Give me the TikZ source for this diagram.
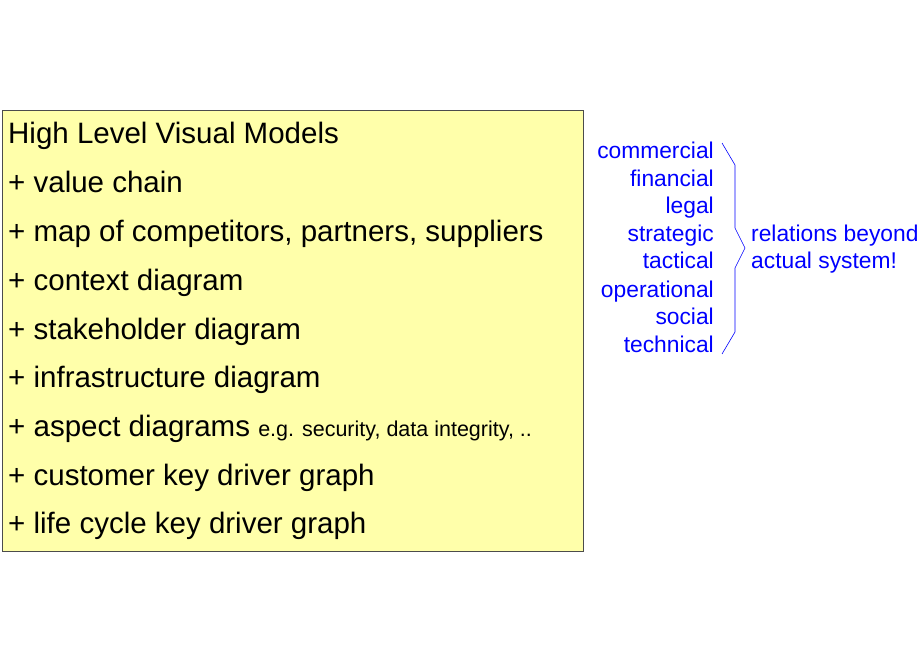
\documentclass[tikz,border=0pt]{standalone}
\usepackage{fontspec}
\setmainfont{Liberation Sans}
\definecolor{boxfill}{RGB}{255,255,170}
\definecolor{myblue}{RGB}{0,0,255}
\tikzset{
  mainline/.style={anchor=base west,inner sep=0pt,font=\fontsize{29.5}{29.5}\selectfont},
  sideline/.style={anchor=base east,inner sep=0pt,text=myblue,font=\fontsize{22.8}{22.8}\selectfont},
  noteline/.style={anchor=base west,inner sep=0pt,text=myblue,font=\fontsize{22.8}{22.8}\selectfont},
}
\begin{document}
\begin{tikzpicture}[x=1pt,y=-1pt]
\useasboundingbox (0,0) rectangle (920,660);
\node[draw=black!70,fill=boxfill,line width=0.6pt,minimum width=581pt,minimum height=441pt,anchor=north west,inner sep=0pt] (box) at (2,110) {};
\node[mainline] (t0) at (8,144) {High Level Visual Models};
\node[mainline] (t1) at (8,193) {+ value chain};
\node[mainline] (t2) at (8,241) {+ map of competitors, partners, suppliers};
\node[mainline] (t3) at (8,290) {+ context diagram};
\node[mainline] (t4) at (8,339) {+ stakeholder diagram};
\node[mainline] (t5) at (8,387) {+ infrastructure diagram};
\node[mainline] (t6) at (8,436) {+ aspect diagrams {\fontsize{21.5}{21.5}\selectfont e.g. security, data integrity, ..}};
\node[mainline] (t7) at (8,485) {+ customer key driver graph};
\node[mainline] (t8) at (8,533) {+ life cycle key driver graph};
\node[sideline] (s0) at (714,159) {commercial};
\node[sideline] (s1) at (714,187) {financial};
\node[sideline] (s2) at (714,214) {legal};
\node[sideline] (s3) at (714,242) {strategic};
\node[sideline] (s4) at (714,269) {tactical};
\node[sideline] (s5) at (714,297) {operational};
\node[sideline] (s6) at (714,324) {social};
\node[sideline] (s7) at (714,352) {technical};
\node[noteline] (n0) at (751,242) {relations beyond};
\node[noteline] (n1) at (751,269) {actual system!};
\coordinate (bt) at (722,143);
\coordinate (bb) at (722,354);
\draw[myblue,line width=0.6pt] (bt) -- (735,165) -- (735,228) -- (745,248) -- (735,268) -- (735,332) -- (bb);
\end{tikzpicture}
\end{document}
